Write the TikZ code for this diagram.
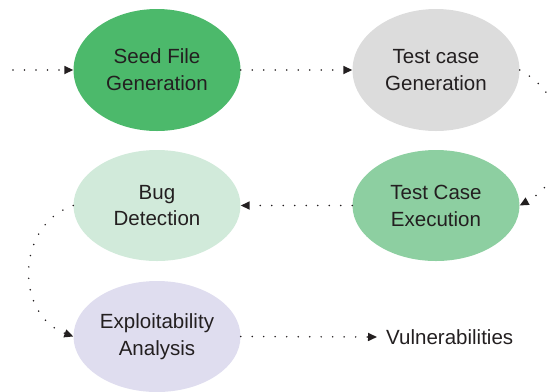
\documentclass[tikz,border=0pt]{standalone}
\usepackage{fontspec}
\setmainfont{Liberation Sans}
\usetikzlibrary{shapes.geometric,arrows.meta}
\definecolor{txt}{HTML}{231F20}
\definecolor{cseed}{HTML}{4CB96B}
\definecolor{cgen}{HTML}{DCDCDC}
\definecolor{cexe}{HTML}{8DCFA1}
\definecolor{cbug}{HTML}{D1EADA}
\definecolor{cexp}{HTML}{DFDDEF}
\tikzset{
  stage/.style={ellipse, minimum width=167bp, minimum height=111bp, inner sep=0pt,
    align=center, text=txt, font=\fontsize{20.6}{27}\selectfont},
  tall/.style={minimum height=122bp},
  flow/.style={draw=txt, line width=1.7bp, line cap=round, dash pattern=on 0pt off 11.5bp,
    -{Triangle[length=9bp,width=8bp]}},
}
\begin{document}
\begin{tikzpicture}[x=1bp,y=-1bp]
\useasboundingbox (0,0) rectangle (548,391);
\node[stage, tall, fill=cseed] (seed) at (157,70) {Seed File\\Generation};
\node[stage, tall, fill=cgen] (gen) at (436,70) {Test case\\Generation};
\node[stage, fill=cexe] (exe) at (436,205.5) {Test Case\\Execution};
\node[stage, fill=cbug] (bug) at (157,205.5) {Bug\\Detection};
\node[stage, fill=cexp] (exp) at (157,336.5) {Exploitability\\Analysis};
\node[anchor=west, inner sep=0pt, text=txt, font=\fontsize{20.6}{27}\selectfont] (vul) at (386,337) {Vulnerabilities};
\coordinate (start) at (13,70);
\coordinate (vtip) at (377,337);
\draw[flow] (start) -- (seed.west);
\draw[flow] (seed.east) -- (gen.west);
\draw[flow] (gen.east) .. controls (575,100) and (575,175) .. (exe.east);
\draw[flow] (exe.west) -- (bug.east);
\draw[flow] (bug.west) .. controls (15,225) and (15,315) .. (exp.west);
\draw[flow] (exp.east) -- (vtip);
\end{tikzpicture}
\end{document}
